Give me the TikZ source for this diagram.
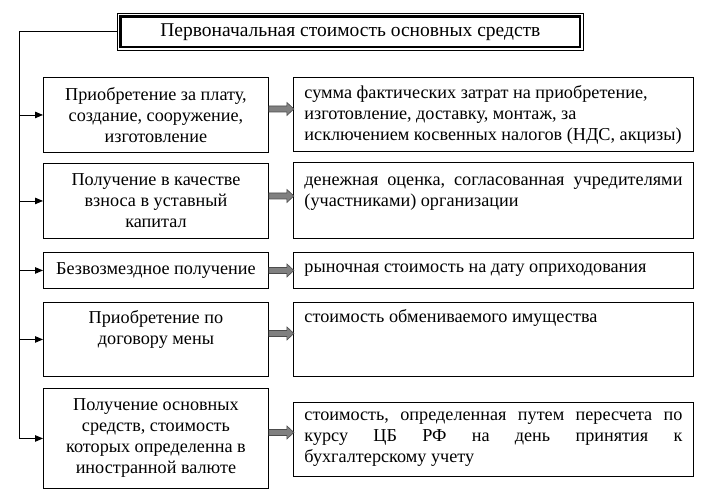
\documentclass[tikz,border=0pt]{standalone}
\usepackage{fontspec}
\setmainfont{Liberation Serif}
\usetikzlibrary{arrows.meta,calc}
\newcommand{\pb}[4]{\parbox[c][#1pt][#2]{#3pt}{#4}}
\newcommand{\fatarr}[2]{\path ($(#1.east)+(0,#2)$) coordinate (fa);
  \draw[fat, shift={(fa)}] (0,-3) -- (18,-3) -- (18,-6.5) -- (25,0) -- (18,6.5) -- (18,3) -- (0,3) -- cycle;}
\begin{document}
\begin{tikzpicture}[x=1pt,y=-1pt,
  font=\fontsize{18.2}{21}\selectfont,
  box/.style={draw, line width=0.9pt, inner ysep=0pt, anchor=north west},
  lbox/.style={box, inner xsep=5pt},
  rbox/.style={box, inner xsep=11pt},
  conn/.style={line width=0.9pt, -{Triangle[length=8pt,width=6.5pt]}},
  fat/.style={fill=black!50, draw=black!70, line width=0.6pt}]
\useasboundingbox (0,0) rectangle (703,493);
% title
\node[draw, line width=0.8pt, anchor=north west, minimum width=466pt, minimum height=37pt, inner sep=0pt, font=\fontsize{19.5}{21}\selectfont] (T) at (117,13) {Первоначальная стоимость основных средств};
\draw[line width=2.2pt] ([shift={(3.5,3.5)}]T.north west) rectangle ([shift={(-3.5,-3.5)}]T.south east);
% left boxes
\node[lbox] (L1) at (43,77) {\pb{75}{c}{215}{\centering Приобретение за плату,\\создание, сооружение,\\изготовление}};
\node[lbox] (L2) at (43,163) {\pb{75}{c}{215}{\centering Получение в качестве\\взноса в уставный\\капитал}};
\node[lbox] (L3) at (43,252) {\pb{36}{c}{215}{\centering Безвозмездное получение}};
\node[lbox] (L4) at (43,302) {\pb{74}{t}{215}{\centering\vspace*{6pt}\strut Приобретение по\\договору мены}};
\node[lbox] (L5) at (43,388) {\pb{100}{c}{215}{\centering Получение основных\\средств, стоимость\\которых определенна в\\иностранной валюте}};
% right boxes
\node[rbox] (R1) at (293,77) {\pb{74}{c}{378}{\raggedright сумма фактических затрат на приобретение,\\изготовление, доставку, монтаж, за\\исключением косвенных налогов (НДС, акцизы)}};
\node[rbox] (R2) at (293,162) {\pb{76}{t}{378}{\vspace*{8pt}\strut денежная\hfill оценка,\hfill согласованная\hfill учредителями\\(участниками) организации}};
\node[rbox] (R3) at (293,252) {\pb{36}{c}{378}{\raggedright рыночная стоимость на дату оприходования}};
\node[rbox] (R4) at (293,302) {\pb{74}{t}{378}{\raggedright\vspace*{5pt}\strut стоимость обмениваемого имущества}};
\node[rbox] (R5) at (293,402) {\pb{74}{c}{378}{стоимость,\hfill определенная\hfill путем\hfill пересчета\hfill по\\курсу\hfill ЦБ\hfill РФ\hfill на\hfill день\hfill принятия\hfill к\\бухгалтерскому учету}};
% spine and connectors
\coordinate (sp) at (19,0);
\draw[line width=0.9pt] (T.west) -| (sp |- L5.west);
\foreach \b in {L1,L2,L3,L4,L5} \draw[conn] (sp |- \b.west) -- (\b.west);
% fat arrows
\fatarr{L1}{-6}
\fatarr{L2}{-5}
\fatarr{L3}{0}
\fatarr{L4}{-6}
\fatarr{L5}{-6}
\end{tikzpicture}
\end{document}
